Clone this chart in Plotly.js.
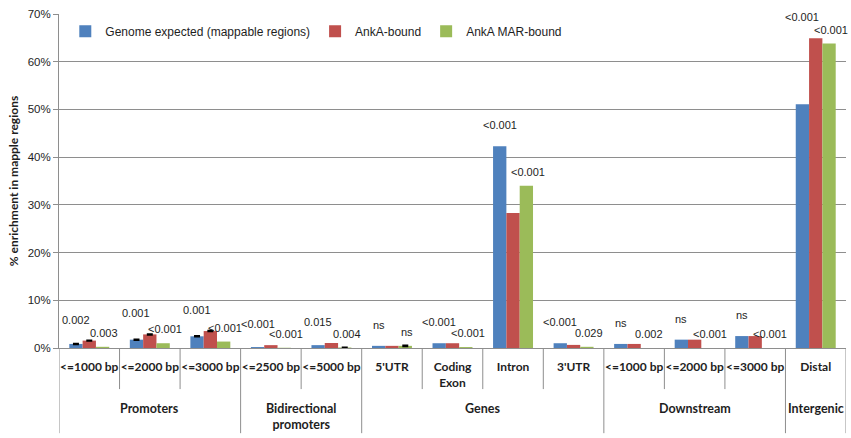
<!DOCTYPE html>
<html>
<head>
<meta charset="utf-8">
<script src="https://cdn.plot.ly/plotly-3.0.1.min.js"></script>
<style>html,body{margin:0;padding:0;background:#fff;}#chart{width:851px;height:438px;}</style>
</head>
<body>
<div id="chart"></div>
<script>
// ---- data ----
var categories = ["<=1000 bp","<=2000 bp","<=3000 bp","<=2500 bp","<=5000 bp","5'UTR","Coding<br>Exon","Intron","3'UTR","<=1000 bp","<=2000 bp","<=3000 bp","Distal"];
var groups = ["Promoters","Bidirectional<br>promoters","Genes","Downstream","Intergenic"];
var groupSizes = [3,2,4,3,1];
var seriesNames = ["Genome expected (mappable regions)","AnkA-bound","AnkA MAR-bound"];
var genome = [0.85,1.75,2.45,0.2,0.6,0.45,1.0,42.3,1.0,0.85,1.75,2.5,51.1];
var ankA   = [1.55,2.85,3.55,0.6,1.05,0.45,1.0,28.3,0.65,0.85,1.75,2.5,64.9];
var ankMAR = [0.25,1.0,1.35,0.05,0.1,0.45,0.2,34.0,0.25,0,0,0,63.8];
var N = NaN; // no error bar
var genomeErr = [0.1,0.1,0.1,N,N,N,N,N,N,N,N,N,N];
var ankAErr   = [0.1,0.1,0.1,N,N,N,N,N,N,N,N,N,N];
var ankMARErr = [N,N,N,N,0.08,0.12,N,N,N,N,N,N,N];
var pAnkA   = ["0.002","0.001","0.001","<0.001","0.015","ns","<0.001","<0.001","<0.001","ns","ns","ns","<0.001"];
var pAnkMAR = ["0.003","<0.001","<0.001","<0.001","0.004","ns","<0.001","<0.001","0.029","0.002","<0.001","<0.001","<0.001"];
var yTicks = [0,10,20,30,40,50,60,70];

// ---- styling ----
var colors = ["#4F81BD","#C0504D","#9BBB59"];
var gridCol = "#8e8e8e";
var txtCol = "#1e1e1e";
var idx = categories.map(function(_, i){ return i; });

function barTrace(vals, errs, name, color){
  return {
    type: "bar", x: idx, y: vals, name: name,
    marker: {color: color, line: {width: 0}},
    error_y: {type: "data", array: errs, visible: true, color: "#000", thickness: 1.5, width: 3},
    hoverinfo: "y"
  };
}
var data = [
  barTrace(genome, genomeErr, seriesNames[0], colors[0]),
  barTrace(ankA, ankAErr, seriesNames[1], colors[1]),
  barTrace(ankMAR, ankMARErr, seriesNames[2], colors[2])
];

var annotations = [];
var shapes = [];
idx.forEach(function(i){
  annotations.push({x: i - 0.22, y: Math.max(genome[i], ankA[i]), xref: "x", yref: "y",
    text: pAnkA[i], showarrow: false, yanchor: "middle", yshift: 21,
    font: {family: "Liberation Sans, Arial, sans-serif", size: 11, color: txtCol}});
  annotations.push({x: i + 0.25, y: ankMAR[i], xref: "x", yref: "y",
    text: pAnkMAR[i], showarrow: false, yanchor: "middle", yshift: 14,
    font: {family: "Liberation Sans, Arial, sans-serif", size: 11, color: txtCol}});
});

// group labels and separators
var start = 0;
var groupBounds = [-0.5];
groups.forEach(function(g, k){
  var end = start + groupSizes[k] - 1;
  annotations.push({x: (start + end) / 2, y: -0.152, xref: "x", yref: "paper",
    text: g, showarrow: false, yanchor: "top",
    font: {family: "Lato, Liberation Sans, sans-serif", size: 12.5, color: txtCol, weight: "bold"}});
  for (var j = start; j < end; j++) {
    shapes.push({type: "line", xref: "x", yref: "paper", x0: j + 0.5, x1: j + 0.5, y0: 0, y1: -0.123,
      line: {color: gridCol, width: 1}});
  }
  groupBounds.push(end + 0.5);
  start = end + 1;
});
groupBounds.forEach(function(b){
  shapes.push({type: "line", xref: "x", yref: "paper", x0: b, x1: b, y0: 0, y1: -0.255,
    line: {color: gridCol, width: 1}});
});

var layout = {
  width: 851, height: 438,
  margin: {l: 59, r: 5, t: 14, b: 90},
  paper_bgcolor: "#fff", plot_bgcolor: "#fff",
  barmode: "group", bargap: 0.34, bargroupgap: 0,
  showlegend: true,
  legend: {orientation: "h", x: 0.008, xanchor: "left", y: 0.948, yanchor: "middle",
    font: {family: "Liberation Sans, Arial, sans-serif", size: 12, color: txtCol},
    bgcolor: "rgba(0,0,0,0)", itemwidth: 30, traceorder: "normal"},
  xaxis: {
    range: [-0.5, 12.5], tickmode: "array", tickvals: idx, ticktext: categories,
    showgrid: false, zeroline: false, showline: true, linecolor: gridCol, linewidth: 1,
    ticks: "", ticklabelstandoff: 8, tickangle: 0,
    tickfont: {family: "Lato, Liberation Sans, sans-serif", size: 12, color: txtCol, weight: "bold"},
    fixedrange: true
  },
  yaxis: {
    range: [0, 70], tickmode: "array", tickvals: yTicks, ticktext: yTicks.map(function(v){ return v + "%"; }),
    showgrid: true, gridcolor: gridCol, gridwidth: 1, zeroline: false,
    showline: true, linecolor: gridCol, linewidth: 1, ticks: "outside", ticklen: 5, tickcolor: gridCol,
    tickfont: {family: "Liberation Sans, Arial, sans-serif", size: 11.5, color: txtCol},
    title: {text: "% enrichment in mapple regions", standoff: 6,
      font: {family: "Lato, Liberation Sans, sans-serif", size: 12, color: txtCol, weight: "bold"}},
    fixedrange: true
  },
  annotations: annotations,
  shapes: shapes
};

Plotly.newPlot("chart", data, layout, {displayModeBar: false, staticPlot: true});
</script>
</body>
</html>
